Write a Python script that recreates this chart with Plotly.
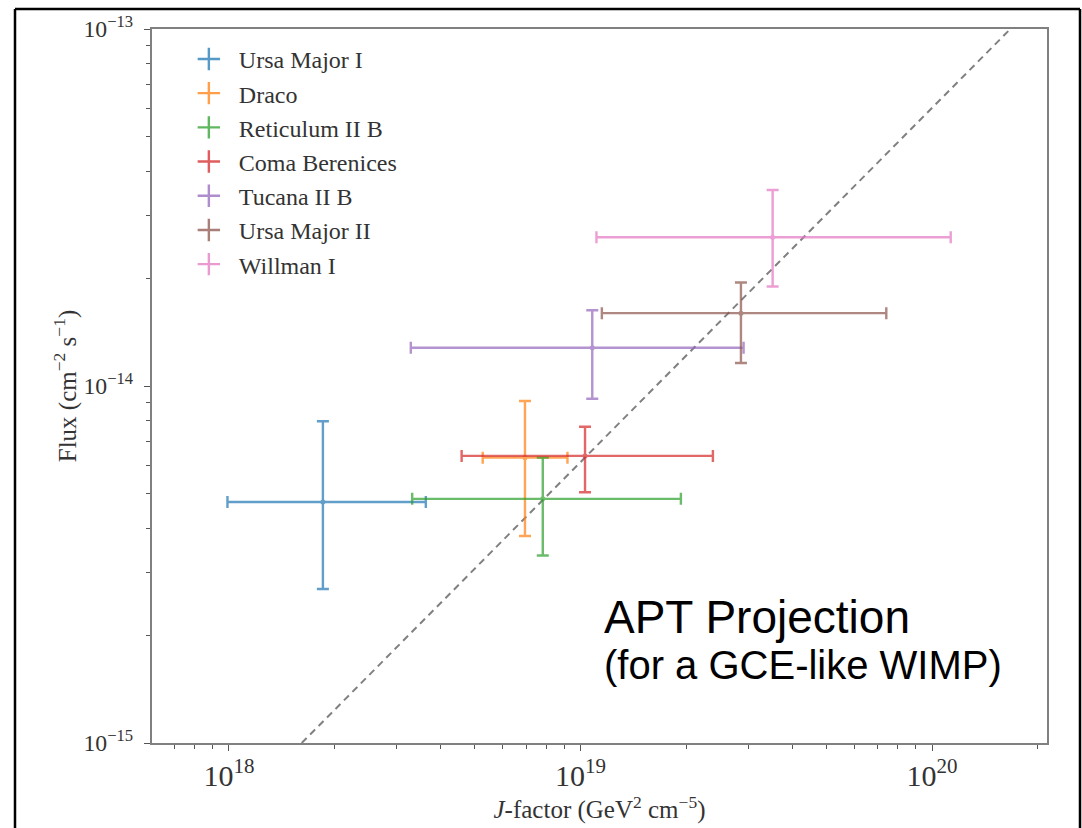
import plotly.graph_objects as go

# ---- data ----
names = ["Ursa Major I", "Draco", "Reticulum II B", "Coma Berenices",
         "Tucana II B", "Ursa Major II", "Willman I"]
j_center = [1.85e18, 6.95e18, 7.81e18, 1.03e19, 1.08e19, 2.86e19, 3.52e19]
j_low = [0.99e18, 5.27e18, 3.32e18, 4.59e18, 3.29e18, 1.15e19, 1.11e19]
j_high = [3.63e18, 9.18e18, 1.93e19, 2.38e19, 2.91e19, 7.41e19, 1.13e20]
flux_center = [4.73e-15, 6.30e-15, 4.83e-15, 6.37e-15, 1.28e-14, 1.60e-14, 2.61e-14]
flux_low = [2.70e-15, 3.80e-15, 3.35e-15, 5.04e-15, 9.21e-15, 1.16e-14, 1.90e-14]
flux_high = [7.97e-15, 9.08e-15, 6.30e-15, 7.69e-15, 1.63e-14, 1.95e-14, 3.54e-14]
colors = ["#1f77b4", "#ff7f0e", "#2ca02c", "#d62728", "#9467bd", "#8c564b", "#e377c2"]

# reference (dashed) line end points
ref_j = [1.61e18, 1.67e20]
ref_flux = [1e-15, 1e-13]

SERIF = "Liberation Serif"
W, H = 1082, 828
L, T = 152, 29
R = W - 1047
B = H - 743

fig = go.Figure()

fig.add_trace(go.Scatter(
    x=ref_j, y=ref_flux, mode="lines",
    line=dict(color="#808080", width=2, dash="7px,5px"),
    showlegend=False, hoverinfo="skip"))

for i, n in enumerate(names):
    c = colors[i]
    fig.add_trace(go.Scatter(
        x=[j_center[i]], y=[flux_center[i]], mode="markers",
        marker=dict(color=c, size=5),
        opacity=0.7,
        error_x=dict(type="data", symmetric=False,
                     array=[j_high[i] - j_center[i]],
                     arrayminus=[j_center[i] - j_low[i]],
                     color=c, thickness=2.4, width=6),
        error_y=dict(type="data", symmetric=False,
                     array=[flux_high[i] - flux_center[i]],
                     arrayminus=[flux_center[i] - flux_low[i]],
                     color=c, thickness=2.4, width=6),
        showlegend=False, name=n))

# legend entries
for i, n in enumerate(names):
    fig.add_trace(go.Scatter(
        x=[None], y=[None], mode="markers", name=n,
        legendgroup=n,
        marker=dict(symbol="cross-thin", size=16, color=colors[i],
                    line=dict(color=colors[i], width=2.4)),
        opacity=0.75, showlegend=True))

axis_common = dict(
    type="log", showgrid=False, zeroline=False,
    showline=True, linecolor="#808080", linewidth=2, mirror=True,
    ticks="outside", ticklen=6, tickwidth=1.2, tickcolor="#555555",
    dtick=1, exponentformat="power", showexponent="all",
    minor=dict(ticks="outside", ticklen=4, tickwidth=1, tickcolor="#555555",
               dtick="D1", showgrid=False),
)

fig.update_layout(
    width=W, height=H,
    margin=dict(l=L, r=R, t=T, b=B),
    paper_bgcolor="white", plot_bgcolor="white",
    font=dict(family=SERIF, color="#333333"),
    xaxis=dict(axis_common, range=[17.781, 20.327],
               tickfont=dict(family=SERIF, size=24, color="#333333"),
               title=dict(text="<i>J</i>-factor (GeV<sup>2</sup> cm<sup>−5</sup>)",
                          font=dict(family=SERIF, size=25, color="#333333"),
                          standoff=2)),
    yaxis=dict(axis_common, range=[-15, -13],
               tickfont=dict(family=SERIF, size=19, color="#333333"),
               ticklabelstandoff=7,
               title=dict(text="Flux (cm<sup>−2</sup> s<sup>−1</sup>)",
                          font=dict(family=SERIF, size=25, color="#333333"),
                          standoff=0)),
    legend=dict(x=0.03, y=0.989, xanchor="left", yanchor="top",
                bgcolor="rgba(0,0,0,0)", borderwidth=0,
                font=dict(family=SERIF, size=24, color="#333333"),
                tracegroupgap=0, itemwidth=50),
    annotations=[
        dict(text="APT Projection", xref="paper", yref="paper",
             x=0.503, y=0.1765, xanchor="left", yanchor="middle",
             showarrow=False,
             font=dict(family="Liberation Sans", size=46, color="black")),
        dict(text="(for a GCE-like WIMP)", xref="paper", yref="paper",
             x=0.503, y=0.109, xanchor="left", yanchor="middle",
             showarrow=False,
             font=dict(family="Liberation Sans", size=40, color="black")),
    ],
)

# slide frame (left, top, right black lines)
def px_x(p):
    return (p - L) / (W - L - R)

def px_y(p):
    return (H - B - p) / (H - T - B)

frame_lines = [((15, 9), (15, 840)), ((15, 9), (1080, 9)), ((1080, 9), (1080, 840))]
for (x0, y0), (x1, y1) in frame_lines:
    fig.add_shape(type="line", xref="paper", yref="paper",
                  x0=px_x(x0), y0=px_y(y0), x1=px_x(x1), y1=px_y(y1),
                  line=dict(color="black", width=2.5), layer="above")

fig.write_html(
    "out.html",
    config={"displayModeBar": False},
    post_script="document.body.style.margin='0';document.body.style.overflow='hidden';",
)
